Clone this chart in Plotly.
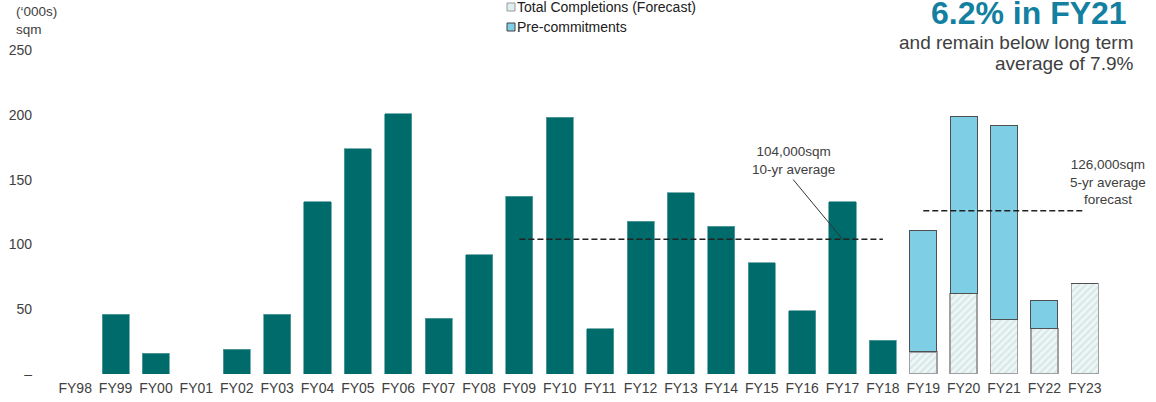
import plotly.graph_objects as go

# Financial years on the category axis
years = ["FY98", "FY99", "FY00", "FY01", "FY02", "FY03", "FY04", "FY05", "FY06",
         "FY07", "FY08", "FY09", "FY10", "FY11", "FY12", "FY13", "FY14", "FY15",
         "FY16", "FY17", "FY18", "FY19", "FY20", "FY21", "FY22", "FY23"]

# Historical total completions ('000s sqm)
hist_years = years[:21]
hist_completions = [0, 46, 16, 0, 19, 46, 133, 174, 201, 43, 92, 137, 198, 35,
                    118, 140, 114, 86, 49, 133, 26]

# Forecast years: uncommitted forecast completions (hatched) and pre-commitments
fc_years = years[21:]
fc_uncommitted = [17, 62, 42, 35, 70]
fc_precommit = [94, 137, 150, 22, 0]

avg_10yr = 104   # FY09-FY18
avg_5yr = 126    # FY19-FY23 forecast

y_ticks = [0, 50, 100, 150, 200, 250]
y_ticktext = ["–", "50", "100", "150", "200", "250"]

TEAL = "#006b6b"
BLUE = "#7ecfe6"
TEXT = "#404040"
FONT = "Arial, Liberation Sans, sans-serif"

# Page geometry (pixels) used to place the free-standing text
L, R, T, B, W, H = 55, 51, 50, 28, 1156, 402
pw, ph = W - L - R, H - T - B


def px_x(x):
    return (x - L) / pw


def px_y(y):
    return (H - B - y) / ph


fig = go.Figure()

fig.add_trace(go.Bar(
    x=hist_years, y=hist_completions, name="Total Completions",
    marker=dict(color=TEAL, line=dict(color="#5a9e9e", width=0.8)),
    showlegend=False,
))
fig.add_trace(go.Bar(
    x=fc_years, y=fc_uncommitted, name="Total Completions (Forecast)",
    marker=dict(color="#eef5f5",
                pattern=dict(shape="/", fgcolor="#b9d8d8", bgcolor="#eef5f5",
                             size=5, solidity=0.35),
                line=dict(color="#a0a0a0", width=1.5)),
    showlegend=False,
))
fig.add_trace(go.Bar(
    x=fc_years, y=fc_precommit, name="Pre-commitments",
    marker=dict(color=BLUE, line=dict(color="#505050", width=1)),
    showlegend=False,
))

idx = {y: i for i, y in enumerate(years)}

# Average lines
fig.add_shape(type="line", xref="x", yref="y",
              x0=idx["FY09"], x1=idx["FY18"], y0=avg_10yr, y1=avg_10yr,
              line=dict(color="#222222", width=1.6, dash="6px,3px"))
fig.add_shape(type="line", xref="x", yref="y",
              x0=idx["FY19"], x1=idx["FY23"], y0=avg_5yr, y1=avg_5yr,
              line=dict(color="#222222", width=1.6, dash="6px,3px"))

# Leader line for the 10-yr average label
fig.add_shape(type="line", xref="x", yref="y",
              x0=idx["FY17"] - 1.22, y0=150, x1=idx["FY17"], y1=avg_10yr,
              line=dict(color="#333333", width=1))

fig.add_annotation(x=px_x(793), y=px_y(160), xref="paper", yref="paper",
                   text=f"{avg_10yr},000sqm<br>10-yr average",
                   showarrow=False, align="center", xanchor="center", yanchor="middle",
                   font=dict(family=FONT, size=13.5, color=TEXT))
fig.add_annotation(x=px_x(1108), y=px_y(182), xref="paper", yref="paper",
                   text=f"{avg_5yr},000sqm<br>5-yr average<br>forecast",
                   showarrow=False, align="center", xanchor="center", yanchor="middle",
                   font=dict(family=FONT, size=13.5, color=TEXT))

# Y axis unit label
fig.add_annotation(x=px_x(14), y=px_y(20), xref="paper", yref="paper",
                   text="(‘000s)<br>sqm", showarrow=False, align="left",
                   xanchor="left", yanchor="middle",
                   font=dict(family=FONT, size=13.5, color=TEXT))

# Headline text
fig.add_annotation(x=px_x(1129), y=px_y(13), xref="paper", yref="paper",
                   text="<b>6.2% in FY21</b>", showarrow=False,
                   xanchor="right", yanchor="middle",
                   font=dict(family=FONT, size=32, color="#137fa1"))
for line_text, ypx in [("and remain below long term", 43), ("average of 7.9%", 64)]:
    fig.add_annotation(x=px_x(1135), y=px_y(ypx), xref="paper", yref="paper",
                       text=line_text, showarrow=False,
                       xanchor="right", yanchor="middle", align="right",
                       font=dict(family=FONT, size=19, color=TEXT))

# Legend drawn by hand
legend_items = [("Total Completions (Forecast)", "#dfeeee", "#9a9a9a", 7),
                ("Pre-commitments", BLUE, "#404040", 27)]
for label, fill, edge, ypx in legend_items:
    fig.add_shape(type="rect", xref="paper", yref="paper",
                  x0=px_x(507), x1=px_x(515), y0=px_y(ypx + 4), y1=px_y(ypx - 4),
                  fillcolor=fill, line=dict(color=edge, width=1))
    fig.add_annotation(x=px_x(515), y=px_y(ypx), xref="paper", yref="paper",
                       text=label, showarrow=False,
                       xanchor="left", yanchor="middle",
                       font=dict(family=FONT, size=14, color="#202020"))

fig.update_layout(
    width=W, height=H,
    margin=dict(l=L, r=R, t=T, b=B, autoexpand=False),
    barmode="stack", bargap=0.33,
    paper_bgcolor="white", plot_bgcolor="white",
    font=dict(family=FONT, size=14, color=TEXT),
    xaxis=dict(type="category", categoryorder="array", categoryarray=years,
               range=[-0.5, len(years) - 0.5], showgrid=False, showline=False,
               zeroline=False, ticks="", ticklabelstandoff=4, automargin=False,
               tickfont=dict(size=14, color=TEXT)),
    yaxis=dict(range=[0, 250], tickvals=y_ticks, ticktext=y_ticktext,
               showgrid=False, showline=False, zeroline=False, ticks="",
               ticklabelstandoff=22, automargin=False,
               tickfont=dict(size=14, color=TEXT)),
)

fig.write_html("out.html")
